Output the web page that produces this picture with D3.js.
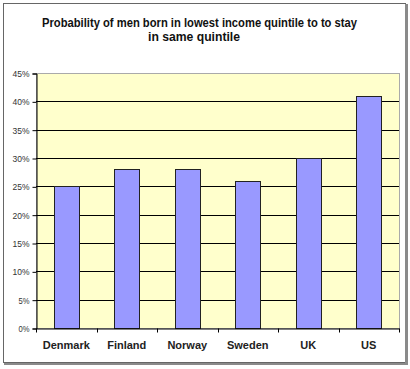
<!DOCTYPE html>
<html><head><meta charset="utf-8">
<script src="https://cdn.jsdelivr.net/npm/d3@7"></script>
<style>body{margin:0;background:#fff}svg{display:block}</style>
</head><body>
<script>
const categories = ["Denmark","Finland","Norway","Sweden","UK","US"];
const values = [0.25,0.28,0.28,0.26,0.30,0.41];
const yTicks = [0,0.05,0.10,0.15,0.20,0.25,0.30,0.35,0.40,0.45];
const titleLines = ["Probability of men born in lowest income quintile to to stay","in same quintile"];

const W=410,H=369;
const FONT="'Liberation Sans', Arial, sans-serif";
const svg=d3.select("body").append("svg").attr("width",W).attr("height",H);
// outer frame with shadow
svg.append("rect").attr("x",3.5).attr("y",3.5).attr("width",402).attr("height",359)
  .attr("fill","#fff").attr("stroke","#666").attr("stroke-width",1);
svg.append("rect").attr("x",405).attr("y",4).attr("width",3).attr("height",361).attr("fill","#8a8a8a");
svg.append("rect").attr("x",4).attr("y",363).attr("width",404).attr("height",2).attr("fill","#8a8a8a");

const m={l:36,r:399,t:73,b:328};
const x=d3.scaleBand().domain(categories).range([m.l,m.r]).paddingInner(0.59).paddingOuter(0.295);
const xb=d3.scaleBand().domain(categories).range([m.l,m.r]);
const y=d3.scaleLinear().domain([0,0.45]).range([m.b,m.t]);

svg.append("rect").attr("x",m.l+0.5).attr("y",m.t+0.5).attr("width",m.r-m.l).attr("height",m.b-m.t)
  .attr("fill","#FFFFCC").attr("stroke","#aaa").attr("stroke-width",1);

// gridlines
svg.append("g").selectAll("line").data(yTicks.filter(d=>d>0&&d<0.45)).join("line")
  .attr("x1",m.l).attr("x2",m.r).attr("y1",d=>Math.round(y(d))+0.5).attr("y2",d=>Math.round(y(d))+0.5)
  .attr("stroke","#000").attr("stroke-width",1);

// bars
svg.append("g").selectAll("rect").data(values).join("rect")
  .attr("x",(d,i)=>Math.round(x(categories[i]))+0.5).attr("width",Math.round(x.bandwidth()))
  .attr("y",d=>Math.round(y(d))+0.5).attr("height",d=>Math.round(y(0))-Math.round(y(d)))
  .attr("fill","#9999FF").attr("stroke","#222").attr("stroke-width",1);

// y axis
const ya=svg.append("g").attr("transform",`translate(${m.l+0.5},0.5)`)
  .call(d3.axisLeft(y).tickValues(yTicks).tickFormat(d3.format(".0%")).tickSize(4).tickPadding(3));
ya.select(".domain").attr("stroke","#000");
ya.selectAll(".tick line").attr("stroke","#000");
ya.selectAll("text").attr("font-family",FONT).attr("font-size","9.5px").attr("fill","#333")
  .attr("textLength",function(){return this.textContent.length===2?11:17;}).attr("lengthAdjust","spacingAndGlyphs");

// x axis
const xa=svg.append("g").attr("transform",`translate(0,${Math.round(y(0))+0.5})`)
  .call(d3.axisBottom(xb).tickSize(0).tickPadding(13));
xa.select(".domain").attr("stroke","#000");
xa.selectAll("text").attr("font-family",FONT).attr("font-size","11px").attr("font-weight","bold").attr("fill","#222");
// boundary ticks
const bounds=categories.map(c=>xb(c)).concat([m.r]);
xa.append("g").selectAll("line").data(bounds).join("line")
  .attr("x1",d=>Math.round(d)+0.5).attr("x2",d=>Math.round(d)+0.5).attr("y1",0).attr("y2",4).attr("stroke","#000");

// title
svg.append("g").selectAll("text").data(titleLines).join("text")
  .attr("x",(d,i)=>i?194:199.5).attr("y",(d,i)=>27+i*13.5).attr("text-anchor","middle")
  .attr("font-family",FONT).attr("font-size","12.5px").attr("font-weight","bold").attr("fill","#111")
  .attr("textLength",(d,i)=>i?92:315).attr("lengthAdjust","spacingAndGlyphs")
  .text(d=>d);
</script>
</body></html>
